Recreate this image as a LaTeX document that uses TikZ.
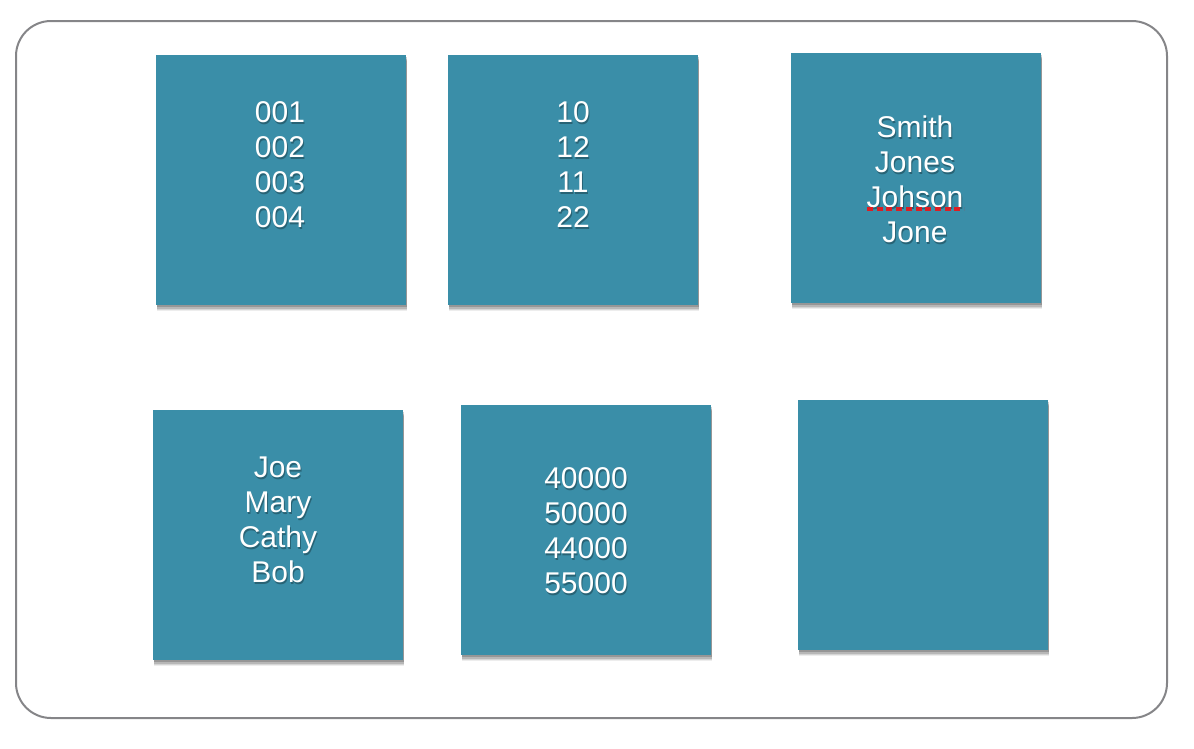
\documentclass[tikz,border=0pt]{standalone}
\usepackage{fontspec}
\setmainfont{Liberation Sans}
\usetikzlibrary{shadows}
\definecolor{tilecol}{RGB}{58,142,168}
\definecolor{framecol}{RGB}{133,133,136}
\definecolor{spellred}{RGB}{220,30,35}
\begin{document}
\begin{tikzpicture}[x=1pt,y=-1pt,
  tilebox/.style={fill=tilecol, draw=none, minimum width=250pt, minimum height=250pt, inner sep=0pt,
    general shadow={shadow xshift=1pt, shadow yshift=-6pt, fill=black, opacity=0.07, minimum width=258pt, minimum height=254pt},
    general shadow={shadow xshift=1pt, shadow yshift=-5pt, fill=black, opacity=0.10, minimum width=255pt, minimum height=252pt},
    general shadow={shadow xshift=1pt, shadow yshift=-4pt, fill=black, opacity=0.14, minimum width=252pt, minimum height=250pt},
    general shadow={shadow xshift=1pt, shadow yshift=-2pt, fill=black, opacity=0.18}},
  tiletext/.style={text=white, font=\fontsize{30}{35}\selectfont, align=center, inner sep=0pt},
  tileshade/.style={text=black, text opacity=0.3, font=\fontsize{30}{35}\selectfont, align=center, inner sep=0pt}]
\useasboundingbox (0,0) rectangle (1194,748);
\draw[framecol, line width=2pt, rounded corners=35pt] (16,21) rectangle (1167,718);

\node[tilebox] (b1) at (281,180) {};
\node[tilebox] (b2) at (573,180) {};
\node[tilebox] (b3) at (916,178) {};
\node[tilebox] (b4) at (278,535) {};
\node[tilebox] (b5) at (586,530) {};
\node[tilebox] (b6) at (923,525) {};

\node[tileshade] (s1) at (281,167) {001\\002\\003\\004};
\node[tiletext] (t1) at (280,165) {001\\002\\003\\004};
\node[tileshade] (s2) at (574,167) {10\\12\\11\\22};
\node[tiletext] (t2) at (573,165) {10\\12\\11\\22};
\node[tileshade] (s3) at (916,181) {Smith\\Jones\\Johson\\Jone};
\node[tiletext] (t3) at (915,179) {Smith\\Jones\\Johson\\Jone};
\node[tileshade] (s4) at (279,522) {Joe\\Mary\\Cathy\\Bob};
\node[tiletext] (t4) at (278,520) {Joe\\Mary\\Cathy\\Bob};
\node[tileshade] (s5) at (587,533) {40000\\50000\\44000\\55000};
\node[tiletext] (t5) at (586,531) {40000\\50000\\44000\\55000};

\coordinate (u1) at (867,209);
\coordinate (u2) at (964,209);
\draw[spellred, line width=4pt, dash pattern=on 6pt off 3.7pt] (u1) -- (u2);
\end{tikzpicture}
\end{document}
